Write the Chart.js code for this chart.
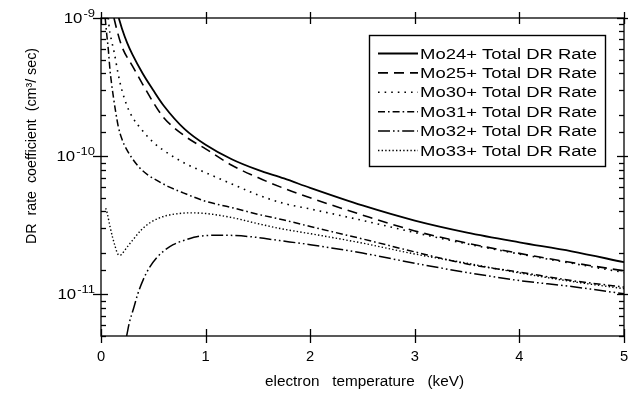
<!DOCTYPE html>
<html>
<head>
<meta charset="utf-8">
<script src="https://cdn.jsdelivr.net/npm/chart.js@4/dist/chart.umd.min.js"></script>
<style>
html,body{margin:0;padding:0;background:#fff;}
#wrap{width:628px;height:393px;position:relative;}
</style>
</head>
<body>
<div id="wrap"><canvas id="c" width="628" height="393"></canvas></div>
<script>
// ---------- data ----------
const seriesLabels = ['Mo24+ Total DR Rate','Mo25+ Total DR Rate','Mo30+ Total DR Rate','Mo31+ Total DR Rate','Mo32+ Total DR Rate','Mo33+ Total DR Rate'];

const mo24X = [0.17, 0.2, 0.25, 0.3, 0.4, 0.5, 0.6, 0.8, 1.0, 1.25, 1.5, 1.75, 2.0, 2.5, 3.0, 3.5, 4.0, 4.5, 5.0];
const mo24Y = [1.0e-9, 8.4e-10, 6.6e-10, 5.45e-10, 3.95e-10, 3.0e-10, 2.32e-10, 1.57e-10, 1.21e-10, 9.5e-11, 7.95e-11, 6.9e-11, 5.9e-11, 4.4e-11, 3.42e-11, 2.8e-11, 2.38e-11, 2.05e-11, 1.71e-11];

const mo25X = [0.124, 0.15, 0.2, 0.3, 0.4, 0.5, 0.6, 0.8, 1.0, 1.25, 1.5, 1.75, 2.0, 2.5, 3.0, 3.5, 4.0, 4.5, 5.0];
const mo25Y = [1.0e-9, 8.3e-10, 6.2e-10, 4.5e-10, 3.3e-10, 2.45e-10, 1.9e-10, 1.4e-10, 1.13e-10, 8.6e-11, 7.0e-11, 5.85e-11, 5.0e-11, 3.75e-11, 2.88e-11, 2.35e-11, 1.98e-11, 1.7e-11, 1.48e-11];

const mo30X = [0.07, 0.08, 0.1, 0.125, 0.165, 0.2, 0.25, 0.3, 0.4, 0.5, 0.6, 0.8, 1.0, 1.25, 1.5, 1.75, 2.0, 2.5, 3.0, 3.5, 4.0, 4.5, 5.0];
const mo30Y = [1.0e-9, 8.3e-10, 6.9e-10, 5.7e-10, 3.9e-10, 3.0e-10, 2.3e-10, 1.92e-10, 1.52e-10, 1.26e-10, 1.1e-10, 8.9e-11, 7.6e-11, 6.3e-11, 5.25e-11, 4.55e-11, 4.15e-11, 3.43e-11, 2.8e-11, 2.32e-11, 1.96e-11, 1.68e-11, 1.44e-11];

const mo31X = [0.04, 0.055, 0.07, 0.086, 0.1, 0.118, 0.14, 0.165, 0.2, 0.245, 0.3, 0.372, 0.45, 0.547, 0.65, 0.786, 1.0, 1.25, 1.5, 1.75, 2.0, 2.5, 3.0, 3.5, 4.0, 4.5, 5.0];
const mo31Y = [1.0e-9, 7.6e-10, 5.9e-10, 4.2e-10, 3.4e-10, 2.7e-10, 2.1e-10, 1.64e-10, 1.33e-10, 1.12e-10, 9.6e-11, 8.2e-11, 7.3e-11, 6.6e-11, 6.0e-11, 5.43e-11, 4.72e-11, 4.25e-11, 3.8e-11, 3.45e-11, 3.1e-11, 2.52e-11, 2.03e-11, 1.66e-11, 1.45e-11, 1.26e-11, 1.13e-11];

const mo32X = [0.245, 0.27, 0.309, 0.35, 0.404, 0.46, 0.532, 0.6, 0.69, 0.8, 0.946, 1.168, 1.42, 1.71, 2.0, 2.5, 3.0, 3.5, 4.0, 4.5, 5.0];
const mo32Y = [5.0e-12, 6.2e-12, 7.8e-12, 1.0e-11, 1.28e-11, 1.55e-11, 1.84e-11, 2.06e-11, 2.29e-11, 2.47e-11, 2.64e-11, 2.68e-11, 2.62e-11, 2.45e-11, 2.29e-11, 1.99e-11, 1.68e-11, 1.44e-11, 1.26e-11, 1.14e-11, 1.01e-11];

const mo33X = [0.045, 0.06, 0.086, 0.11, 0.134, 0.155, 0.175, 0.2, 0.22, 0.26, 0.309, 0.38, 0.468, 0.55, 0.627, 0.75, 0.85, 1.0, 1.264, 1.5, 1.71, 2.0, 2.5, 3.0, 3.5, 4.0, 4.5, 5.0];
const mo33Y = [4.2e-11, 3.85e-11, 3.1e-11, 2.6e-11, 2.24e-11, 2.0e-11, 1.92e-11, 1.95e-11, 2.05e-11, 2.25e-11, 2.5e-11, 2.9e-11, 3.3e-11, 3.55e-11, 3.72e-11, 3.85e-11, 3.89e-11, 3.85e-11, 3.58e-11, 3.25e-11, 3.0e-11, 2.75e-11, 2.35e-11, 1.96e-11, 1.68e-11, 1.43e-11, 1.24e-11, 1.1e-11];

const xTickValues = [0, 1, 2, 3, 4, 5];
const xTitle = 'electron   temperature   (keV)';
const yTitle = 'DR  rate  coefficient  (cm\u00B3/ sec)';
const yMin = 5e-12, yMax = 1e-9;

// ---------- build ----------
function pts(xs, ys){ return xs.map((x,i)=>({x:x, y:ys[i]})); }
const FONT = '"Liberation Sans", Arial, Helvetica, sans-serif';

const styles = [
  {dash: [], width: 1.8},
  {dash: [10, 6], width: 1.6},
  {dash: [1.6, 5], width: 1.6},
  {dash: [7, 3, 1.6, 3], width: 1.5},
  {dash: [12, 3, 1.6, 3, 1.6, 3], width: 1.5},
  {dash: [1.4, 2.2], width: 1.4}
];
const seriesX = [mo24X, mo25X, mo30X, mo31X, mo32X, mo33X];
const seriesY = [mo24Y, mo25Y, mo30Y, mo31Y, mo32Y, mo33Y];

const datasets = seriesLabels.map((lab, i) => ({
  label: lab,
  data: pts(seriesX[i], seriesY[i]),
  borderColor: '#000',
  backgroundColor: '#000',
  borderWidth: styles[i].width,
  borderDash: styles[i].dash,
  pointRadius: 0,
  fill: false,
  cubicInterpolationMode: 'monotone'
}));

function stretchText(ctx, text, x, y, sx, align){
  const w = ctx.measureText(text).width * sx;
  let x0 = x;
  if (align === 'center') x0 = x - w/2;
  else if (align === 'right') x0 = x - w;
  ctx.save();
  ctx.translate(x0, y);
  ctx.scale(sx, 1);
  ctx.textAlign = 'left';
  ctx.fillText(text, 0, 0);
  ctx.restore();
  return w;
}
function fitText(ctx, text, x, y, target, align){
  const w = ctx.measureText(text).width;
  return stretchText(ctx, text, x, y, target / w, align);
}
function line(ctx, x1, y1, x2, y2){ ctx.beginPath(); ctx.moveTo(x1, y1); ctx.lineTo(x2, y2); ctx.stroke(); }

const decor = {
  id: 'decor',
  afterDatasetsDraw(chart){
    const ctx = chart.ctx, a = chart.chartArea, xs = chart.scales.x, ys = chart.scales.y;
    ctx.save();
    ctx.strokeStyle = '#000'; ctx.fillStyle = '#000'; ctx.lineWidth = 1.3; ctx.setLineDash([]);
    ctx.strokeRect(a.left, a.top, a.right - a.left, a.bottom - a.top);
    // x ticks (bottom and top, crossing)
    xs.ticks.forEach(t => {
      const px = Math.round(xs.getPixelForValue(t.value)) + 0.5;
      line(ctx, px, a.bottom - 7, px, a.bottom + 7);
      line(ctx, px, a.top - 6, px, a.top + 6);
    });
    // y ticks (left and right)
    ys.ticks.forEach(t => {
      const py = Math.round(ys.getPixelForValue(t.value)) + 0.5;
      const e = Math.log10(t.value);
      const major = Math.abs(e - Math.round(e)) < 1e-6;
      if (major) {
        line(ctx, a.left - 8, py, a.left + 7, py);
        line(ctx, a.right - 7, py, a.right + 4, py);
      } else {
        line(ctx, a.left, py, a.left + 5, py);
        line(ctx, a.right - 5, py, a.right, py);
      }
    });
    // x tick labels
    ctx.font = '14px ' + FONT; ctx.textBaseline = 'alphabetic';
    xs.ticks.forEach(t => {
      const px = xs.getPixelForValue(t.value);
      stretchText(ctx, String(t.value), px, 361, 1.05, 'center');
    });
    // y tick labels (decades) as 10^n
    ys.ticks.forEach(t => {
      const e = Math.log10(t.value);
      if (Math.abs(e - Math.round(e)) > 1e-6) return;
      const n = Math.round(e);
      const py = ys.getPixelForValue(t.value);
      const right = a.left - 6;
      ctx.font = '10px ' + FONT;
      const expStr = '-' + String(-n);
      const we = ctx.measureText(expStr).width * 1.3;
      stretchText(ctx, expStr, right - we, py - 1.5, 1.3, 'left');
      ctx.font = '14px ' + FONT;
      stretchText(ctx, '10', right - we - 1, py + 5, 1.2, 'right');
    });
    // axis titles
    ctx.font = '14px ' + FONT;
    fitText(ctx, xTitle, (a.left + a.right) / 2 + 2, 386, 199, 'center');
    ctx.save();
    ctx.translate(36, 146);
    ctx.rotate(-Math.PI / 2);
    fitText(ctx, yTitle, 0, 0, 196, 'center');
    ctx.restore();
    // legend
    const bx = 369.5, by = 35.5, bw = 236, bh = 131;
    ctx.fillStyle = '#fff';
    ctx.fillRect(bx, by, bw, bh);
    ctx.fillStyle = '#000';
    ctx.lineWidth = 1.4;
    ctx.strokeRect(bx, by, bw, bh);
    ctx.font = '14px ' + FONT;
    chart.data.datasets.forEach((ds, i) => {
      const ry = 53.5 + i * 19.4;
      ctx.save();
      ctx.lineWidth = ds.borderWidth;
      ctx.setLineDash(ds.borderDash || []);
      line(ctx, 378, ry, 418, ry);
      ctx.restore();
      fitText(ctx, ds.label, 420, ry + 5, 177, 'left');
    });
    ctx.restore();
  }
};

new Chart(document.getElementById('c'), {
  type: 'line',
  data: { datasets: datasets },
  options: {
    responsive: false,
    animation: false,
    devicePixelRatio: 1,
    layout: { padding: { left: 0, right: 4, top: 18, bottom: 0 } },
    plugins: { legend: { display: false }, tooltip: { enabled: false } },
    scales: {
      x: {
        type: 'linear', min: 0, max: 5,
        afterBuildTicks: s => { s.ticks = xTickValues.map(v => ({value: v})); },
        ticks: { display: false },
        grid: { display: false, drawTicks: false },
        border: { display: false },
        afterFit: s => { s.height = 57; }
      },
      y: {
        type: 'logarithmic', min: yMin, max: yMax,
        ticks: { display: false },
        grid: { display: false, drawTicks: false },
        border: { display: false },
        afterFit: s => { s.width = 101; }
      }
    }
  },
  plugins: [decor]
});
</script>
</body>
</html>
